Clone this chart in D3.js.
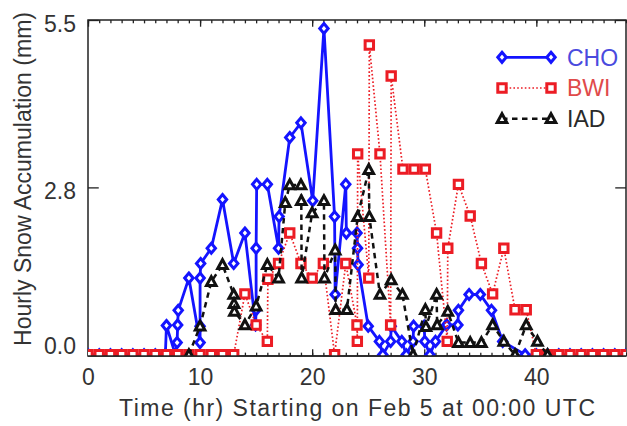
<!DOCTYPE html>
<html><head><meta charset="utf-8">
<script src="https://cdn.jsdelivr.net/npm/d3@7"></script>
<style>
html,body{margin:0;padding:0;background:#fff;}
svg{display:block;}
text{font-family:"Liberation Sans",Arial,sans-serif;fill:#333;}
</style></head>
<body><svg id="chart" width="627" height="426"></svg>
<script>
// ---- data (hours since Feb 5 00:00 UTC, hourly snow accumulation mm) ----
const seriesNames = ["CHO","BWI","IAD"];

const choTime  = [0,1,2,3,4,5,6,6.9,7.0,7.8,7.95,8.0,8.05,9.0,10.0,10.0,10.0,10.05,11,12,13,14,14.95,15.0,15.0,15.05,16,17,17.05,18,19,20.05,21.05,22.0,22.05,23.0,23.05,24.0,24.05,24.1,25,26,26.3,27,27.05,28,28.4,29,29.05,30,30.05,30.5,31,32,33,33.05,34,35,36,37,39,40,41,42,43,44,45,46,47,48];
const choValue = [0,0,0,0,0,0,0,0,0.48,0,0.2,0.49,0.73,1.26,0.2,0.47,1.26,1.5,1.75,2.55,1.5,2.0,0.49,0.74,1.75,2.8,2.8,1.75,2.27,3.57,3.81,2.53,5.36,2.27,0.99,2.8,2.0,2.0,1.75,1.48,0.47,0.22,0,0.22,0.47,0.22,0,0.22,0.47,0.47,0.22,0,0.22,0.49,0.49,0.73,0.99,0.99,0.73,0.22,0,0,0,0,0,0,0,0,0,0];

const bwiTime  = [0,1,2,3,4,5,6,7,8,9,10,11,12,13,14,15,16,16.05,17,18,19,20,21,22,23,24,24.03,24.06,25.05,25.1,26.05,27,27.05,28.1,29.1,30.1,31.1,32.05,32.1,33.05,34.1,35.1,36.1,37.1,38.1,39.1,40,41,42,43,44,45,46,47,48];
const bwiValue = [0,0,0,0,0,0,0,0,0,0,0,0,0,0,1.0,0.49,0.22,1.24,1.5,2.0,1.5,1.26,1.5,0,1.5,0.49,0.22,3.3,1.26,5.09,3.3,0.49,4.58,3.05,3.05,3.05,2.0,0.22,1.75,2.8,2.28,1.5,1.0,1.75,0.74,0.74,0,0,0,0,0,0,0,0,0];

const iadTime  = [9,10,11,12,13,13.03,13.06,14,15,16,17,17.6,18,19,19.03,19.06,20,21.05,21.1,22.05,22.1,23.1,24.06,25.05,25.1,26.05,27.05,28.05,29,30.1,30.15,31.1,31.15,32.1,33.05,34.1,35.1,36.1,37.1,38.1,39.1,40.1,41];
const iadValue = [0,0.47,1.2,1.48,0.99,0.84,0.71,0.49,0.8,1.48,1.26,2.5,2.79,2.79,2.53,1.26,2.33,2.53,1.26,1.72,0.74,0.74,2.27,3.04,2.27,0.99,1.23,0.99,0,0.74,0.46,0.99,0.49,0.71,0.2,0.2,0.2,0.49,0.22,0,0.49,0.22,0];

const xTickValues = [0,10,20,30,40];
const yTickValues = [0,2.75,5.5];
const yTickLabels = ["0.0","2.8","5.5"];
const xTitle = "Time (hr) Starting on Feb 5 at 00:00 UTC";
const yTitle = "Hourly Snow Accumulation (mm)";

// ---- layout ----
const svg = d3.select("#chart");
const L = 88, R = 626, T = 20, B = 356;
const x = d3.scaleLinear().domain([0,48]).range([L,R]);
const y = d3.scaleLinear().domain([-0.02,5.5]).range([B,T]);

const styles = {
  CHO:{color:"#1414ff", dash:null, width:2.8, text:"#4a4ade"},
  BWI:{color:"#ec1c24", dash:"1.6,2.2", width:1.7, text:"#e04a4a"},
  IAD:{color:"#111", dash:"5.5,4.5", width:2.5, text:"#2a2a2a"}
};
const symbols = {
  CHO:"M0,-5L4.2,0L0,5L-4.2,0Z",
  BWI:"M-4.2,-4.2H4.2V4.2H-4.2Z",
  IAD:"M0,-5L4.8,3.8H-4.8Z"
};

svg.append("defs").append("clipPath").attr("id","plotclip")
  .append("rect").attr("x",L).attr("y",T).attr("width",R-L).attr("height",B-T);

// frame
svg.append("rect").attr("x",L).attr("y",T).attr("width",R-L).attr("height",B-T)
  .attr("fill","none").attr("stroke","#222").attr("stroke-width",1.5);

const xLen = (B-T)*0.02, yLen = (R-L)*0.02;
function styleAxis(g){
  g.select(".domain").remove();
  g.selectAll("line").attr("stroke","#222").attr("stroke-width",1.3);
  g.selectAll("text").style("font-size","23px").style("fill","#333");
}
// bottom
svg.append("g").attr("transform",`translate(0,${B})`)
  .call(d3.axisBottom(x).tickValues(xTickValues).tickSize(-xLen).tickPadding(12.5).tickFormat(d3.format("d")))
  .call(styleAxis);
svg.append("g").attr("transform",`translate(0,${B})`)
  .call(d3.axisBottom(x).tickValues(d3.range(0,49,1)).tickSize(-xLen/2).tickFormat(""))
  .call(styleAxis);
// top
svg.append("g").attr("transform",`translate(0,${T})`)
  .call(d3.axisTop(x).tickValues(xTickValues).tickSize(-xLen).tickFormat(""))
  .call(styleAxis);
svg.append("g").attr("transform",`translate(0,${T})`)
  .call(d3.axisTop(x).tickValues(d3.range(0,49,1)).tickSize(-xLen/2).tickFormat(""))
  .call(styleAxis);
// left
const gl = svg.append("g").attr("transform",`translate(${L},0)`)
  .call(d3.axisLeft(y).tickValues(yTickValues).tickSize(-yLen).tickPadding(12)
    .tickFormat((d,i)=>yTickLabels[i]))
  .call(styleAxis);
gl.selectAll(".tick text").attr("dy",(d)=> d===0 ? "-0.05em" : "0.5em");
// right
svg.append("g").attr("transform",`translate(${R},0)`)
  .call(d3.axisRight(y).tickValues(yTickValues).tickSize(-yLen).tickFormat(""))
  .call(styleAxis);

// titles
svg.append("text").attr("x",(L+R)/2).attr("y",416).attr("text-anchor","middle")
  .style("font-size","23px").attr("textLength",476).attr("lengthAdjust","spacing").text(xTitle);
svg.append("text").attr("transform","translate(31,179) rotate(-90)").attr("text-anchor","middle")
  .style("font-size","23px").attr("textLength",334).attr("lengthAdjust","spacing").text(yTitle);

// series
const data = {
  CHO: choTime.map((t,i)=>({t, v:choValue[i]})),
  BWI: bwiTime.map((t,i)=>({t, v:bwiValue[i]})),
  IAD: iadTime.map((t,i)=>({t, v:iadValue[i]}))
};
const line = d3.line().x(d=>x(d.t)).y(d=>y(d.v));
const plot = svg.append("g").attr("clip-path","url(#plotclip)");
seriesNames.forEach(name=>{
  const s = styles[name];
  const g = plot.append("g");
  g.append("path").datum(data[name]).attr("d",line).attr("fill","none")
    .attr("stroke",s.color).attr("stroke-width",s.width)
    .attr("stroke-dasharray",s.dash).attr("stroke-linejoin","round");
  g.selectAll("path.m").data(data[name]).join("path").attr("class","m")
    .attr("transform",d=>`translate(${x(d.t)},${y(d.v)})`)
    .attr("d",symbols[name]).attr("fill","#fff").attr("stroke",s.color).attr("stroke-width",3);
});
// redraw bottom edge of frame over clipped marks
svg.append("line").attr("x1",L).attr("x2",R).attr("y1",B).attr("y2",B)
  .attr("stroke","#222").attr("stroke-width",1.5);

// legend
const legY = d3.scaleBand().domain(seriesNames).range([42,134]);
seriesNames.forEach(name=>{
  const s = styles[name];
  const yy = legY(name)+legY.bandwidth()/2;
  const g = svg.append("g");
  g.append("line").attr("x1",502).attr("x2",551).attr("y1",yy).attr("y2",yy)
    .attr("stroke",s.color).attr("stroke-width",s.width).attr("stroke-dasharray",s.dash);
  [502,551].forEach(px=>g.append("path").attr("transform",`translate(${px},${yy})`)
    .attr("d",symbols[name]).attr("fill","#fff").attr("stroke",s.color).attr("stroke-width",3));
  g.append("text").attr("x",567).attr("y",yy).attr("dy","0.36em")
    .style("font-size","23px").style("fill",s.text).text(name);
});
</script></body></html>
